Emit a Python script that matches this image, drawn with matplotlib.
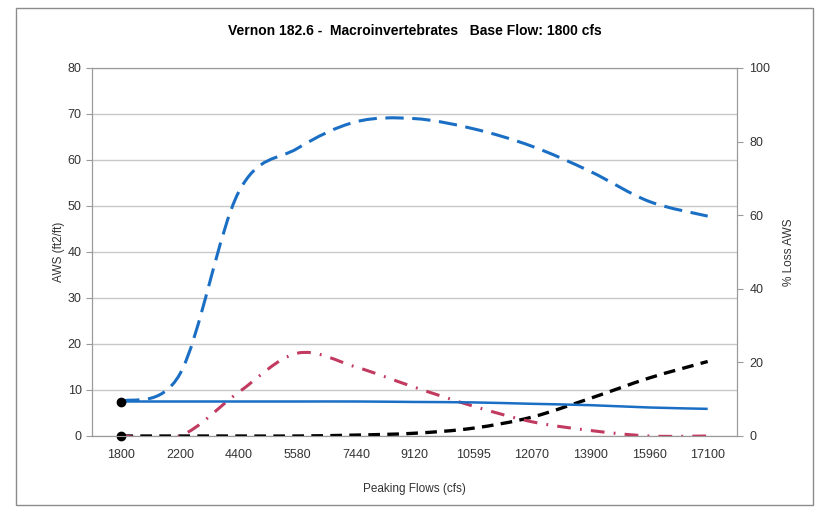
import matplotlib
matplotlib.use("Agg")
import matplotlib.pyplot as plt
from matplotlib.path import Path
from matplotlib.patches import PathPatch, Rectangle

plt.rcParams["font.family"] = ["Liberation Sans", "DejaVu Sans"]

# data
flows = ["1800", "2200", "4400", "5580", "7440", "9120", "10595", "12070", "13900", "15960", "17100"]
aws = [7.5, 7.5, 7.5, 7.5, 7.5, 7.4, 7.3, 7.0, 6.7, 6.2, 5.9]
aws_upper = [7.5, 13.5, 53.0, 62.5, 68.3, 69.0, 66.8, 63.0, 57.5, 51.0, 47.8]
loss_mid = [0.0, 0.0, 9.5, 18.0, 15.0, 10.6, 6.5, 3.1, 1.2, 0.0, 0.0]
loss_high = [0.0, 0.0, 0.0, 0.0, 0.2, 0.6, 1.7, 4.1, 8.2, 12.6, 16.2]
base_points = [7.5, 0.0]


def smooth_path(xs, ys):
    # Excel-style smoothed line: cubic Bezier segments through the points
    n = len(xs)
    verts = [(xs[0], ys[0])]
    codes = [Path.MOVETO]
    for i in range(n - 1):
        x0, y0 = (xs[i - 1], ys[i - 1]) if i > 0 else (xs[i], ys[i])
        x1, y1 = xs[i], ys[i]
        x2, y2 = xs[i + 1], ys[i + 1]
        x3, y3 = (xs[i + 2], ys[i + 2]) if i + 2 < n else (x2, y2)
        c1 = (x1 + (x2 - x0) / 6, y1 + (y2 - y0) / 6)
        c2 = (x2 - (x3 - x1) / 6, y2 - (y3 - y1) / 6)
        verts += [c1, c2, (x2, y2)]
        codes += [Path.CURVE4] * 3
    return Path(verts, codes)


fig = plt.figure(figsize=(8.2, 5.07), dpi=100)
fig.patches.append(Rectangle((16 / 820, 2 / 507), 797 / 820, 497 / 507, transform=fig.transFigure,
                             fill=False, edgecolor="#8c8c8c", linewidth=1.0))

ax = fig.add_axes([92 / 820, 71 / 507, 645 / 820, 368 / 507])
x = list(range(len(flows)))

ax.add_patch(PathPatch(smooth_path(x, loss_high), fill=False, edgecolor="black",
                       linewidth=2.4, linestyle=(0, (3.5, 2.2)), zorder=3))
ax.add_patch(PathPatch(smooth_path(x, loss_mid), fill=False, edgecolor="#c23a60",
                       linewidth=2.2, linestyle=(0, (4.5, 3, 0.6, 3)), zorder=3))
ax.add_patch(PathPatch(smooth_path(x, aws_upper), fill=False, edgecolor="#1a6fc4",
                       linewidth=2.2, linestyle=(0, (6, 2.8)), zorder=3))
ax.add_patch(PathPatch(smooth_path(x, aws), fill=False, edgecolor="#1a6fc4",
                       linewidth=1.8, zorder=3))
ax.scatter([0, 0], base_points, s=36, color="black", zorder=5, clip_on=False)

ax.set_xlim(-0.5, len(flows) - 0.5)
ax.set_ylim(0, 80)
ax.set_yticks(range(0, 81, 10))
ax.set_xticks(x)
ax.set_xticklabels(flows)
ax.grid(axis="y", color="#c8c8c8", linewidth=1.0)
ax.set_axisbelow(True)
for s in ax.spines.values():
    s.set_color("#9a9a9a")
ax.tick_params(axis="both", colors="#9a9a9a", labelcolor="#333333", labelsize=9, length=4)
ax.tick_params(axis="x", length=0, pad=9)
ax.set_ylabel("AWS (ft2/ft)", fontsize=8.5, color="#333333", labelpad=2)
ax.set_xlabel("Peaking Flows (cfs)", fontsize=8.5, color="#333333", labelpad=16)
ax.set_title("Vernon 182.6 -  Macroinvertebrates   Base Flow: 1800 cfs",
             fontsize=10, fontweight="bold", pad=24)

ax2 = ax.twinx()
ax2.set_ylim(0, 100)
ax2.set_yticks(range(0, 101, 20))
for s in ax2.spines.values():
    s.set_color("#9a9a9a")
ax2.tick_params(axis="y", colors="#9a9a9a", labelcolor="#333333", labelsize=9, length=4, pad=5)
ax2.set_ylabel("% Loss AWS", fontsize=8.5, color="#333333", rotation=90, labelpad=9)

fig.savefig("out.png", dpi=100)
